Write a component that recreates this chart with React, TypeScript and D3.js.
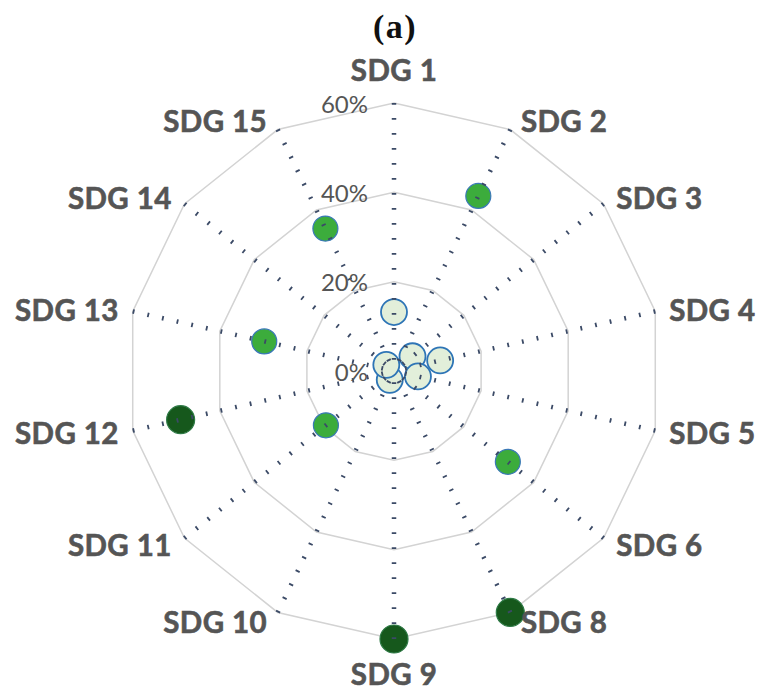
import React from "react";
import * as d3 from "d3";

const categories = ["SDG 1", "SDG 2", "SDG 3", "SDG 4", "SDG 5", "SDG 6", "SDG 8", "SDG 9", "SDG 10", "SDG 11", "SDG 12", "SDG 13", "SDG 14", "SDG 15"];
const values = [13.2, 43.5, 5.3, 10.6, 5.5, 32.6, 60, 60, 2.2, 19.5, 49, 29.8, 2.2, 35.4];
const levels = ["low", "mid", "low", "low", "low", "mid", "high", "high", "low", "mid", "high", "mid", "low", "mid"];
const ticks = [0, 20, 40, 60];
const title = "(a)";

const W = 766;
const H = 692;
const cx = 394;
const cy = 371;
const R = 268;

const styles: Record<string, { fill: string; stroke: string; r: number; sw: number }> = {
  low: { fill: "#e2efda", stroke: "#2e75b6", r: 13, sw: 1.8 },
  mid: { fill: "#3cac3c", stroke: "#3a78b8", r: 12.5, sw: 1.2 },
  high: { fill: "#16581c", stroke: "#2e7a46", r: 14, sw: 1.2 },
};

export default function App() {
  const angle = d3.scaleBand<string>().domain(categories).range([0, 2 * Math.PI]).paddingInner(0).paddingOuter(0).align(0);
  const rScale = d3.scaleLinear().domain([0, 60]).range([0, R]);
  const ang = (c: string) => angle(c) as number;
  const pt = (c: string, v: number): [number, number] => {
    const a = ang(c);
    const r = rScale(v);
    return [cx + r * Math.sin(a), cy - r * Math.cos(a)];
  };

  const rings = ticks.filter((t) => t > 0).map((t) => {
    const pts = categories.map((c) => pt(c, t));
    return d3.line().curve(d3.curveLinearClosed)(pts) as string;
  });

  return (
    <svg width={W} height={H} style={{ position: "absolute", left: 0, top: 0, background: "#fff" }}>
      <text x={cx + 1} y={38} textAnchor="middle" fontFamily="'Liberation Serif', 'DejaVu Serif', serif" fontWeight="bold" fontSize={34} letterSpacing={1.5} fill="#111">
        {title}
      </text>
      {rings.map((d, i) => (
        <path key={i} d={d} fill="none" stroke="#d3d3d3" strokeWidth={1.5} />
      ))}
      {categories.map((c, i) => {
        const [x, y] = pt(c, values[i]);
        const s = styles[levels[i]];
        return <circle key={c} cx={x} cy={y} r={s.r} fill={s.fill} stroke={s.stroke} strokeWidth={s.sw} />;
      })}
      {categories.map((c) => {
        const [x, y] = pt(c, 60);
        return (
          <line key={c} x1={x} y1={y} x2={cx} y2={cy} stroke="#3b4a66" strokeWidth={4.5} strokeDasharray="1.8 13.2" />
        );
      })}
      {ticks.map((t) => (
        <text key={t} x={cx - 26} y={cy - rScale(t)} textAnchor="end" dominantBaseline="central" fontFamily="Lato, 'Open Sans', sans-serif" fontSize={24} fill="#555">
          {t + "%"}
        </text>
      ))}
      {categories.map((c) => {
        const a = ang(c);
        const s = Math.sin(a);
        const co = Math.cos(a);
        const [vx, vy] = pt(c, 60);
        let x = vx;
        let y = vy;
        let anchor: "start" | "end" | "middle" = "middle";
        if (Math.abs(s) < 0.1) {
          y = vy - 34 * co;
        } else {
          const gap = 8 + 6 * Math.abs(s);
          x = vx + (s > 0 ? gap : -gap);
          y = vy - 10 * co;
          anchor = s > 0 ? "start" : "end";
        }
        return (
          <text key={c} x={x} y={y} textAnchor={anchor} dominantBaseline="central" fontFamily="Lato, 'Open Sans', sans-serif" fontWeight="bold" fontSize={29.5} letterSpacing={0.4} fill="#555" stroke="#555" strokeWidth={0.6}>
            {c}
          </text>
        );
      })}
    </svg>
  );
}
